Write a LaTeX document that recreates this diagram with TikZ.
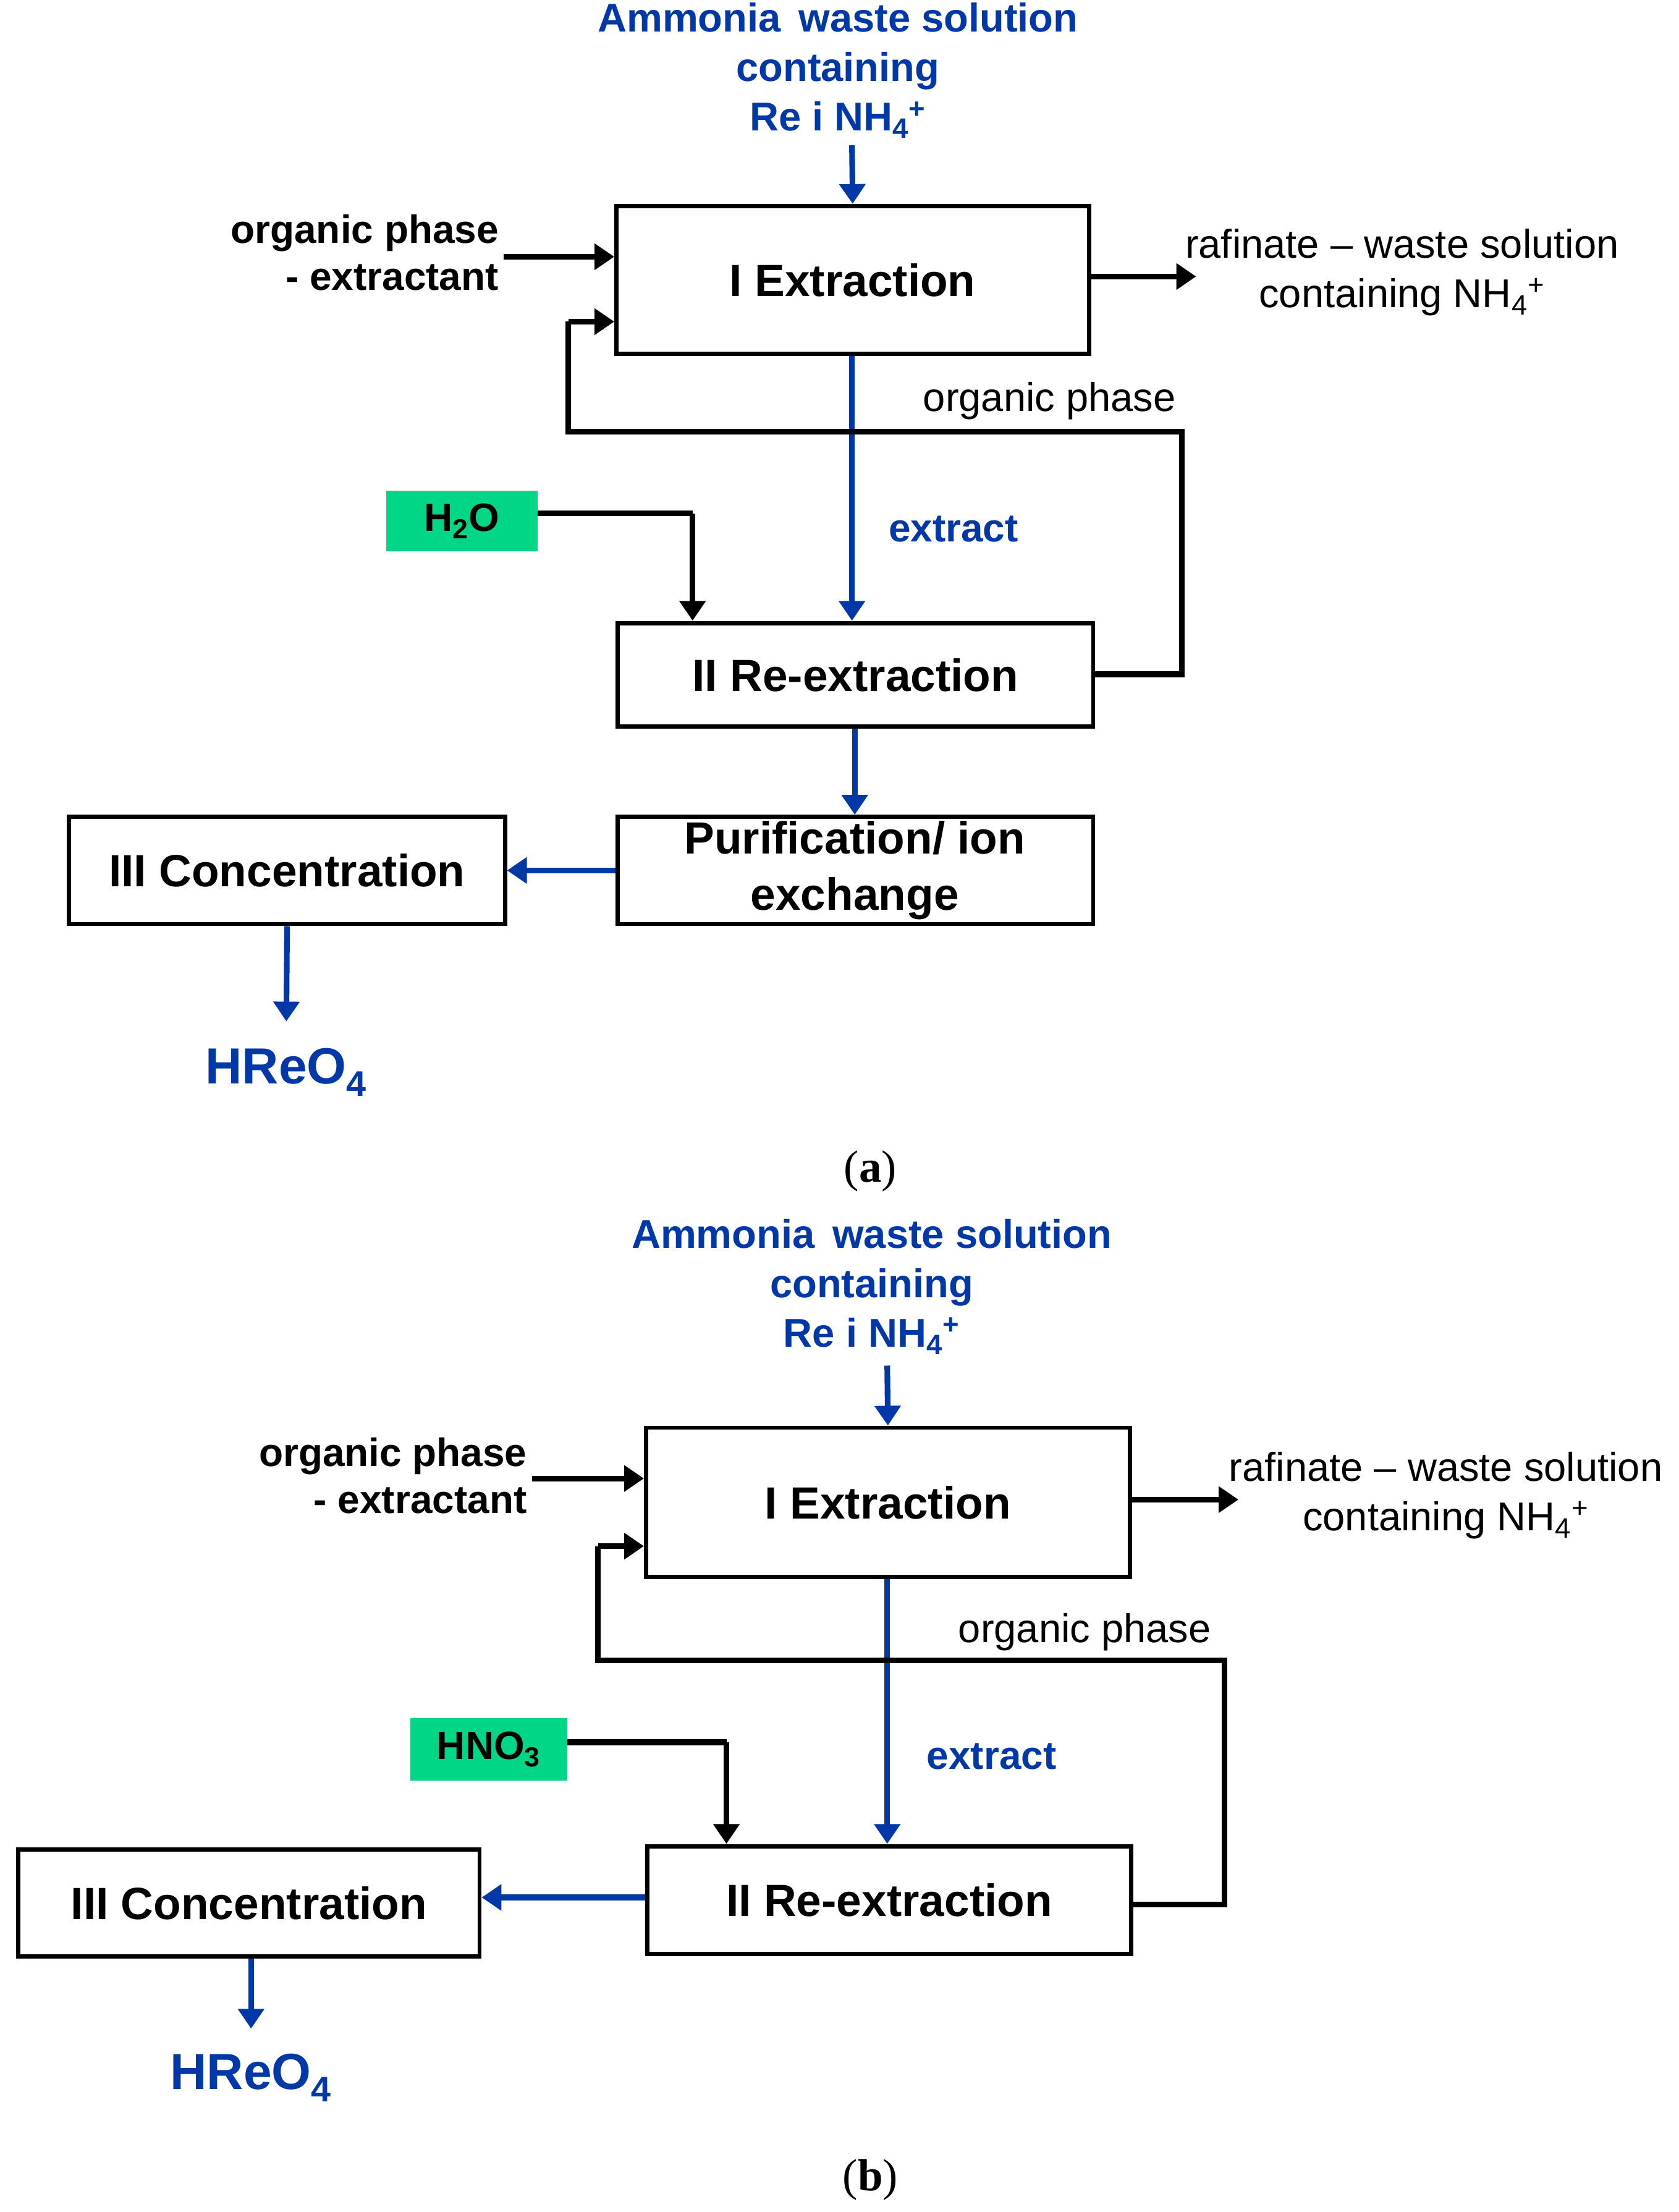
\documentclass[tikz,border=0pt]{standalone}
\usepackage{fontspec}
\setmainfont{Liberation Sans}
\newfontfamily\seriffont{Liberation Serif}
\usetikzlibrary{arrows.meta}
\definecolor{myblue}{RGB}{0,56,168}
\definecolor{mygreen}{RGB}{0,214,134}
\newcommand{\sbs}[1]{\textsubscript{#1}}
\newcommand{\nhf}{NH\textsubscript{4}\textsuperscript{+}}
\begin{document}
\begin{tikzpicture}[x=1pt,y=-1pt,
  box/.style={draw,line width=3pt,inner sep=0pt},
  arr/.style={line width=4pt,-{Triangle[length=14pt,width=18pt]}},
  barr/.style={arr,myblue},
  ln/.style={line width=4pt},
  big/.style={font=\fontsize{32}{36}\selectfont\bfseries},
  med/.style={font=\fontsize{28}{33}\selectfont\bfseries},
  reg/.style={font=\fontsize{28.5}{35}\selectfont},
  ttl/.style={font=\fontsize{28.5}{35}\selectfont\bfseries,text=myblue,align=center},
]
\useasboundingbox (0,0) rectangle (1190,1568);
% ---------- (a)
\node[ttl] (at) at (594,50) {Ammonia\, waste solution\\containing\\Re i \nhf};
\node[box,minimum width=335pt,minimum height=105pt] (ae) at (604.5,198.5) {};
\node[big] (aet) at (ae) {I Extraction};
\draw[barr] (604,103) -- (ae.north);
\node[med,align=right,anchor=east] (aorg) at (357,179) {organic phase\\- extractant};
\draw[arr] (aorg.east |- 0,182) -- (ae.west |- 0,182);
\draw[arr] (ae.east |- 0,196) -- (848,196);
\node[reg,align=center] (araf) at (994,193) {rafinate -- waste solution\\containing \nhf};
\node[box,minimum width=337pt,minimum height=73pt] (are) at (606.5,478.5) {};
\node[big] (aret) at (are) {II Re-extraction};
\draw[barr] (ae.south -| 604,0) -- (604,440);
\node[med,text=myblue] (aext) at (676,375) {extract};
\coordinate (a1) at (838,478); \coordinate (a2) at (838,306);
\coordinate (a3) at (403,306); \coordinate (a4) at (403,228);
\draw[ln] (are.east |- a1) -- (a1) -- (a2) -- (a3) -- (a4);
\draw[arr] (a4) -- (ae.west |- a4);
\node[reg] (aop) at (744,284) {organic phase};
\node[fill=mygreen,minimum width=107pt,minimum height=43pt,inner sep=0pt,med] (ah2o) at (327.5,369.5) {H\sbs{2}O};
\coordinate (a5) at (491,364);
\draw[ln] (ah2o.east |- a5) -- (a5);
\draw[arr] (a5) -- (491,440);
\node[box,minimum width=337pt,minimum height=76pt] (apu) at (606.5,617) {};
\node[big,align=center,font=\fontsize{32}{40}\selectfont\bfseries] (aput) at (606,617) {Purification/ ion\\exchange};
\draw[barr] (are.south -| 606,0) -- (apu.north -| 606,0);
\node[box,minimum width=309pt,minimum height=76pt] (aco) at (203.5,617) {};
\node[big] (acot) at (aco) {III Concentration};
\draw[barr] (apu.west) -- (aco.east);
\node[font=\fontsize{36}{40}\selectfont\bfseries,text=myblue] (ahre) at (203,760) {HReO\sbs{4}};
\draw[barr] (aco.south) -- (203,724);
\node[font=\fontsize{32}{36}\selectfont\seriffont] (alab) at (617,830) {(\textbf{a})};
% ---------- (b)
\node[ttl] (bt) at (618,912) {Ammonia\, waste solution\\containing\\Re i \nhf};
\node[box,minimum width=343pt,minimum height=106pt] (be) at (629.5,1065) {};
\node[big] (bet) at (be) {I Extraction};
\draw[barr] (629,968) -- (be.north);
\node[med,align=right,anchor=east] (borg) at (377,1046) {organic phase\\- extractant};
\draw[arr] (borg.east |- 0,1048) -- (be.west |- 0,1048);
\draw[arr] (be.east |- 0,1063) -- (878,1063);
\node[reg,align=center] (braf) at (1025,1060) {rafinate -- waste solution\\containing \nhf};
\node[box,minimum width=343pt,minimum height=76pt] (bre) at (630.5,1347) {};
\node[big] (bret) at (bre) {II Re-extraction};
\draw[barr] (be.south -| 629,0) -- (629,1307);
\node[med,text=myblue] (bext) at (703,1245) {extract};
\coordinate (b1) at (868,1350); \coordinate (b2) at (868,1177);
\coordinate (b3) at (424,1177); \coordinate (b4) at (424,1096);
\draw[ln] (bre.east |- b1) -- (b1) -- (b2) -- (b3) -- (b4);
\draw[arr] (b4) -- (be.west |- b4);
\node[reg] (bop) at (769,1157) {organic phase};
\node[fill=mygreen,minimum width=111pt,minimum height=44pt,inner sep=0pt,med] (bhno) at (346.5,1240) {HNO\sbs{3}};
\coordinate (b5) at (515,1235);
\draw[ln] (bhno.east |- b5) -- (b5);
\draw[arr] (b5) -- (515,1307);
\node[box,minimum width=327pt,minimum height=76pt] (bco) at (176.5,1349) {};
\node[big] (bcot) at (bco) {III Concentration};
\draw[barr] (bre.west |- 0,1345) -- (bco.east |- 0,1345);
\node[font=\fontsize{36}{40}\selectfont\bfseries,text=myblue] (bhre) at (178,1473) {HReO\sbs{4}};
\draw[barr] (bco.south -| 178,0) -- (178,1438);
\node[font=\fontsize{32}{36}\selectfont\seriffont] (blab) at (617,1545) {(\textbf{b})};
\end{tikzpicture}
\end{document}
